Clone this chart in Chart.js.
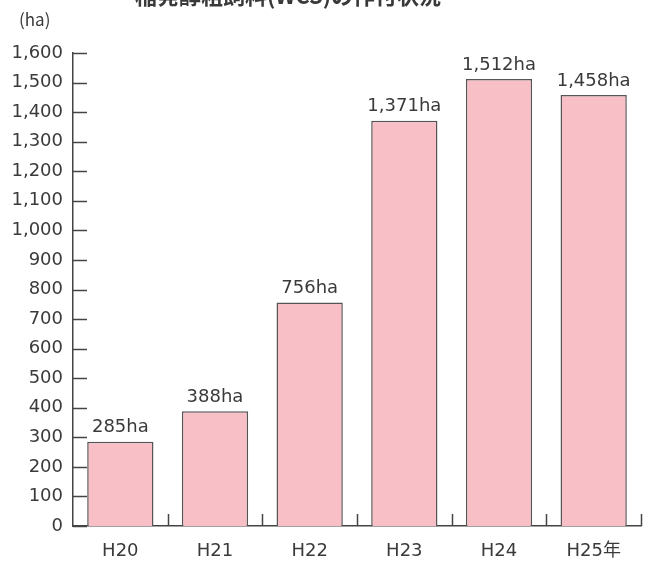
<!DOCTYPE html>
<html>
<head>
<meta charset="utf-8">
<script src="https://cdn.jsdelivr.net/npm/chart.js@4"></script>
<style>
  html, body { margin: 0; padding: 0; background: #fff; }
  #wrap { width: 656px; height: 562px; }
</style>
</head>
<body>
<div id="wrap"><canvas id="wcsChart" width="656" height="562"></canvas></div>
<script>
const years = ['H20', 'H21', 'H22', 'H23', 'H24', 'H25年'];
const areaHa = [285, 388, 756, 1371, 1512, 1458];
const titleText = '稲発酵粗飼料(WCS)の作付状況';
const unitText = '(ha)';

const FONT = '"DejaVu Sans", "Noto Sans CJK JP", sans-serif';
const CJK_FONT = '"Noto Sans CJK JP", sans-serif';
const INK = '#3a3a3a';
const LINE = '#444';

// tick marks drawn inside the axes, value labels, title and unit
const decorations = {
    id: 'decorations',
    afterDraw(chart) {
        const ctx = chart.ctx;
        const xs = chart.scales.x, ys = chart.scales.y;
        const area = chart.chartArea;
        ctx.save();
        ctx.strokeStyle = LINE;
        ctx.lineWidth = 1.5;

        // y ticks pointing right
        ys.ticks.forEach(t => {
            const y = Math.round(ys.getPixelForValue(t.value)) + 0.5;
            ctx.beginPath();
            ctx.moveTo(area.left, y);
            ctx.lineTo(area.left + 14, y);
            ctx.stroke();
        });

        // x ticks at category boundaries, pointing up
        const step = (area.right - area.left) / years.length;
        for (let i = 1; i <= years.length; i++) {
            const x = Math.round(xs.getPixelForValue(i - 1) + step / 2) + 0.5;
            ctx.beginPath();
            ctx.moveTo(x, area.bottom);
            ctx.lineTo(x, area.bottom - 12);
            ctx.stroke();
        }

        // value labels
        ctx.fillStyle = INK;
        ctx.font = '18px ' + FONT;
        ctx.textAlign = 'center';
        ctx.textBaseline = 'bottom';
        chart.getDatasetMeta(0).data.forEach((bar, i) => {
            ctx.fillText(areaHa[i].toLocaleString('en-US') + 'ha', bar.x, bar.y - 5);
        });

        // unit
        ctx.font = '17px ' + CJK_FONT;
        ctx.textAlign = 'left';
        ctx.textBaseline = 'middle';
        ctx.fillText(unitText, 19, 20);

        // title (cut off at the top of the picture)
        ctx.font = 'bold 22px ' + CJK_FONT;
        ctx.textAlign = 'center';
        ctx.fillText(titleText, 288, -4);
        ctx.restore();
    }
};

new Chart(document.getElementById('wcsChart'), {
    type: 'bar',
    data: {
        labels: years,
        datasets: [{
            data: areaHa,
            backgroundColor: '#f8bfc7',
            borderColor: '#555',
            borderWidth: 1.5,
            barPercentage: 0.7,
            categoryPercentage: 1
        }]
    },
    options: {
        responsive: false,
        animation: false,
        layout: { padding: { top: 53, right: 15, left: 0, bottom: 0 } },
        plugins: { legend: { display: false }, tooltip: { enabled: false } },
        scales: {
            x: {
                grid: { display: false, drawTicks: false },
                border: { display: true, color: LINE, width: 1.5 },
                ticks: { color: INK, font: { size: 18, family: FONT }, padding: 15 },
                afterFit(s) { s.height = 36; }
            },
            y: {
                min: 0,
                max: 1600,
                grid: { display: false, drawTicks: false },
                border: { display: true, color: LINE, width: 1.5 },
                ticks: {
                    stepSize: 100,
                    color: INK,
                    padding: 10,
                    font: { size: 18, family: FONT },
                    callback: v => v.toLocaleString('en-US')
                },
                afterFit(s) { s.width = 73; }
            }
        }
    },
    plugins: [decorations]
});
</script>
</body>
</html>
